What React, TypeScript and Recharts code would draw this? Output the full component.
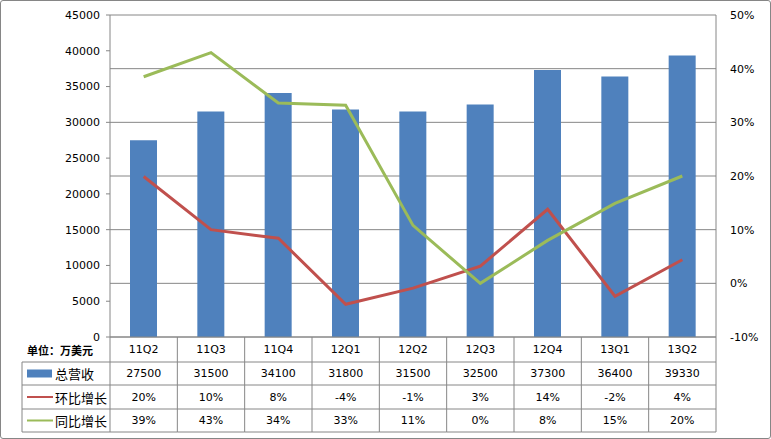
import React from "react";
import {
  ComposedChart,
  Bar,
  Line,
  XAxis,
  YAxis,
  CartesianGrid,
} from "recharts";

const quarters = ["11Q2", "11Q3", "11Q4", "12Q1", "12Q2", "12Q3", "12Q4", "13Q1", "13Q2"];
const revenue = [27500, 31500, 34100, 31800, 31500, 32500, 37300, 36400, 39330];
const qoqGrowth = [19.9, 10, 8.4, -3.9, -0.9, 3.2, 13.8, -2.4, 4.4];
const yoyGrowth = [38.5, 43, 33.6, 33.2, 10.8, 0, 8, 14.9, 20];
const revenueTicks = [0, 5000, 10000, 15000, 20000, 25000, 30000, 35000, 40000, 45000];
const pctTicks = [-10, 0, 10, 20, 30, 40, 50];

const data = quarters.map((q, i) => ({
  name: q,
  revenue: revenue[i],
  qoq: qoqGrowth[i],
  yoy: yoyGrowth[i],
}));

const BLUE = "#4F81BD";
const RED = "#C0504D";
const GREEN = "#9BBB59";
const GRID = "#868686";
const FONT = "'DejaVu Sans', Verdana, sans-serif";
const CJK = "'Noto Sans CJK SC', sans-serif";

const W = 771;
const H = 439;
const PLOT_LEFT = 110;
const PLOT_RIGHT = 716;
const PLOT_TOP = 15;
const PLOT_BOTTOM = 337;
const COL_W = (PLOT_RIGHT - PLOT_LEFT) / quarters.length;
// row boundaries of the data table, relative to the x axis line
const ROWS = [0, 25, 48, 72, 95];

function TableTick(props: any) {
  const { x, y, payload } = props;
  const i = payload.index;
  const x0 = x - COL_W / 2;
  const x1 = x + COL_W / 2;
  const mid = (r: number) => y + (ROWS[r] + ROWS[r + 1]) / 2;
  const cells = [
    quarters[i],
    String(revenue[i]),
    Math.round(qoqGrowth[i]) + "%",
    Math.round(yoyGrowth[i]) + "%",
  ];
  const legendX = 22;
  return (
    <g>
      {ROWS.slice(1).map((r) => (
        <line key={r} x1={x0} x2={x1} y1={y + r} y2={y + r} stroke={GRID} />
      ))}
      <line x1={x1} x2={x1} y1={y} y2={y + ROWS[4]} stroke={GRID} />
      {cells.map((t, r) => (
        <text
          key={r}
          x={x}
          y={mid(r)}
          textAnchor="middle"
          dominantBaseline="central"
          fontSize={11}
          fontFamily={FONT}
          fill="#000"
        >
          {t}
        </text>
      ))}
      {i === 0 && (
        <g>
          <line x1={x0} x2={x0} y1={y} y2={y + ROWS[4]} stroke={GRID} />
          {ROWS.slice(1).map((r) => (
            <line key={r} x1={legendX} x2={x0} y1={y + r} y2={y + r} stroke={GRID} />
          ))}
          <line x1={legendX} x2={legendX} y1={y + ROWS[1]} y2={y + ROWS[4]} stroke={GRID} />
          <text
            x={27}
            y={mid(0)}
            dominantBaseline="central"
            fontSize={11}
            fontWeight="bold"
            fontFamily={CJK}
            fill="#000"
          >
            单位：万美元
          </text>
          <rect x={27} y={mid(1) - 4} width={25} height={8} fill={BLUE} />
          <line x1={27} x2={53} y1={mid(2)} y2={mid(2)} stroke={RED} strokeWidth={2} />
          <line x1={27} x2={53} y1={mid(3)} y2={mid(3)} stroke={GREEN} strokeWidth={2} />
          {["总营收", "环比增长", "同比增长"].map((t, k) => (
            <text
              key={t}
              x={55}
              y={mid(k + 1)}
              dominantBaseline="central"
              fontSize={13}
              fontFamily={CJK}
              fill="#000"
            >
              {t}
            </text>
          ))}
        </g>
      )}
    </g>
  );
}

export default function App() {
  return (
    <div style={{ position: "absolute", left: 0, top: 0, width: W, height: H, background: "#fff" }}>
      <ComposedChart
        width={W}
        height={H}
        data={data}
        margin={{ top: PLOT_TOP, left: PLOT_LEFT - 60, right: W - PLOT_RIGHT - 55, bottom: 0 }}
      >
        <CartesianGrid yAxisId="right" vertical={false} stroke={GRID} strokeDasharray="" />
        <XAxis
          dataKey="name"
          height={H - PLOT_BOTTOM}
          axisLine={{ stroke: GRID }}
          tickLine={false}
          tickSize={0}
          tickMargin={0}
          interval={0}
          tick={<TableTick />}
        />
        <YAxis
          yAxisId="left"
          width={60}
          domain={[0, 45000]}
          ticks={revenueTicks}
          axisLine={{ stroke: GRID }}
          tickLine={{ stroke: GRID }}
          tickSize={4}
          tickMargin={6}
          tick={{ fontSize: 11, fontFamily: FONT, fill: "#000" }}
        />
        <YAxis
          yAxisId="right"
          orientation="right"
          width={55}
          domain={[-10, 50]}
          ticks={pctTicks}
          tickFormatter={(v) => `${v}%`}
          axisLine={{ stroke: GRID }}
          tickLine={false}
          tickMargin={8}
          tick={{ fontSize: 11, fontFamily: FONT, fill: "#000", textAnchor: "start" }}
        />
        <Bar yAxisId="left" dataKey="revenue" fill={BLUE} barSize={27} isAnimationActive={false} />
        <Line
          yAxisId="right"
          dataKey="qoq"
          stroke={RED}
          strokeWidth={3}
          dot={false}
          type="linear"
          isAnimationActive={false}
        />
        <Line
          yAxisId="right"
          dataKey="yoy"
          stroke={GREEN}
          strokeWidth={3}
          dot={false}
          type="linear"
          isAnimationActive={false}
        />
      </ComposedChart>
      <div
        style={{
          position: "absolute",
          left: 0,
          top: 0,
          width: W - 2,
          height: H - 2,
          border: "1px solid #868686",
          borderRadius: 3,
          pointerEvents: "none",
        }}
      />
    </div>
  );
}
